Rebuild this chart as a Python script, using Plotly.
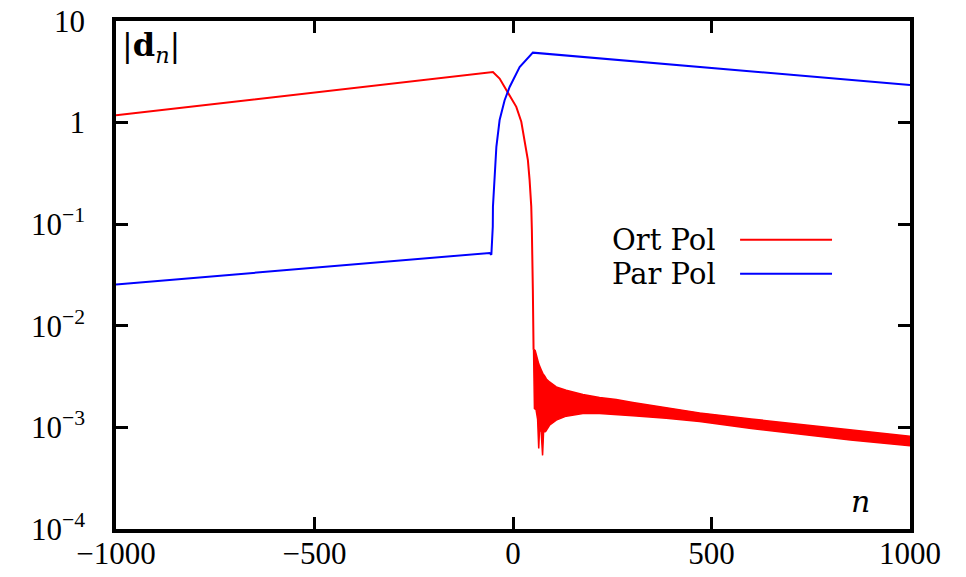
import plotly.graph_objects as go

# ---------------- data ----------------
# Ort Pol (red): smooth part
ort_n = [-1000, -50.5, -33.7, -16.8, -4.3, 8.3, 20.9, 29.2, 37.5, 41.8, 46.0, 47.5, 49.3, 50.0, 51.8]
ort_v = [1.18, 3.15, 2.71, 2.08, 1.77, 1.43, 1.02, 0.673, 0.428, 0.273, 0.149, 0.088, 0.048, 0.0227, 0.0058]

# Ort Pol (red): rapidly oscillating tail, upper and lower envelopes
ort_tail_up_n = [51.8, 54, 56, 62, 65, 71, 75, 80, 84, 92, 109, 134, 176, 218, 260, 302, 386, 470, 600, 720, 850, 1000]
ort_tail_up_v = [0.0058, 0.0058, 0.0057, 0.0046, 0.0042, 0.0037, 0.0034, 0.0032, 0.0030, 0.0028, 0.0025, 0.00232,
                 0.00211, 0.00197, 0.00188, 0.00176, 0.00156, 0.00139, 0.00121, 0.00108, 0.00094, 0.00082]
ort_tail_lo_n = [51.8, 54, 58, 62, 64.8, 67, 71, 74.5, 77, 82, 92, 109, 134, 176, 218, 260, 302, 386, 470, 600, 720, 850, 1000]
ort_tail_lo_v = [0.0058, 0.00153, 0.0015, 0.0012, 0.00062, 0.0010, 0.0009, 0.00053, 0.0009, 0.00091, 0.00105, 0.00118,
                 0.00129, 0.00137, 0.00137, 0.00134, 0.0013, 0.00123, 0.00114, 0.000975, 0.00086, 0.00075, 0.00066]

# Par Pol (blue)
par_n = [-1000, -58.8, -54.5, -50.9, -50.5, -46.2, -41.9, -33.7, -21.1, -8.5, 16.7, 50.0, 1000]
par_v = [0.0255, 0.0521, 0.0501, 0.095, 0.149, 0.317, 0.578, 1.06, 1.66, 2.24, 3.52, 4.88, 2.35]

series_names = ["Ort Pol", "Par Pol"]
series_colors = ["#ff0000", "#0000ff"]

x_tick_vals = [-1000, -500, 0, 500, 1000]
x_tick_text = ["\u22121000", "\u2212500", "0", "500", "1000"]
y_tick_vals = [1e-4, 1e-3, 1e-2, 1e-1, 1, 10]
y_tick_text = ["10<sup>\u22124</sup>", "10<sup>\u22123</sup>", "10<sup>\u22122</sup>",
               "10<sup>\u22121</sup>", "1", "10"]

FONT = "Liberation Serif"
TFONT = "DejaVu Serif"

fig = go.Figure()

# oscillating tail as a filled band
fig.add_trace(go.Scatter(
    x=ort_tail_up_n + ort_tail_lo_n[::-1],
    y=ort_tail_up_v + ort_tail_lo_v[::-1],
    mode="lines", fill="toself", fillcolor=series_colors[0],
    line=dict(color=series_colors[0], width=1.5),
    showlegend=False, hoverinfo="skip"))

fig.add_trace(go.Scatter(x=ort_n, y=ort_v, mode="lines", name=series_names[0],
                         line=dict(color=series_colors[0], width=2), showlegend=False))
fig.add_trace(go.Scatter(x=par_n, y=par_v, mode="lines", name=series_names[1],
                         line=dict(color=series_colors[1], width=2), showlegend=False))

axis_common = dict(showline=True, linecolor="black", linewidth=3.5, mirror="ticks",
                   ticks="inside", ticklen=12, tickwidth=3, tickcolor="black",
                   showgrid=False, zeroline=False, automargin=False,
                   ticklabeloverflow="allow",
                   tickfont=dict(family=FONT, size=31, color="black"))

fig.update_xaxes(range=[-1000, 1000], tickvals=x_tick_vals, ticktext=x_tick_text,
                 ticklabelstandoff=-6, **axis_common)
fig.update_yaxes(type="log", range=[-4, 1], tickvals=y_tick_vals, ticktext=y_tick_text,
                 ticklabelstandoff=21, **axis_common)

# legend drawn gnuplot-style: text on the left, sample line on the right
leg_y = [0.5695, 0.5025]
for name, col, yy in zip(series_names, series_colors, leg_y):
    fig.add_annotation(x=0.758, y=yy, xref="paper", yref="paper", text=name,
                       showarrow=False, xanchor="right", yanchor="middle",
                       font=dict(family=TFONT, size=29, color="black"))
    fig.add_shape(type="line", xref="paper", yref="paper", x0=0.786, x1=0.9018, y0=yy, y1=yy,
                  line=dict(color=col, width=2))

fig.add_annotation(x=0.044, y=0.949, xref="paper", yref="paper",
                   text="|<b>d</b><sub><i>n</i></sub>|", showarrow=False,
                   xanchor="center", yanchor="middle",
                   font=dict(family=TFONT, size=32, color="black"))
fig.add_annotation(x=0.938, y=0.055, xref="paper", yref="paper",
                   text="<i>n</i>", showarrow=False,
                   xanchor="center", yanchor="middle",
                   font=dict(family=TFONT, size=30, color="black"))

fig.update_layout(width=966, height=577, margin=dict(l=116, r=56, t=21, b=48),
                  paper_bgcolor="white", plot_bgcolor="white", showlegend=False)

# remove the browser's default 8px body margin so the figure fills the window exactly
fig.write_html("out.html", config={"displayModeBar": False},
               post_script="document.body.style.margin='0';")
